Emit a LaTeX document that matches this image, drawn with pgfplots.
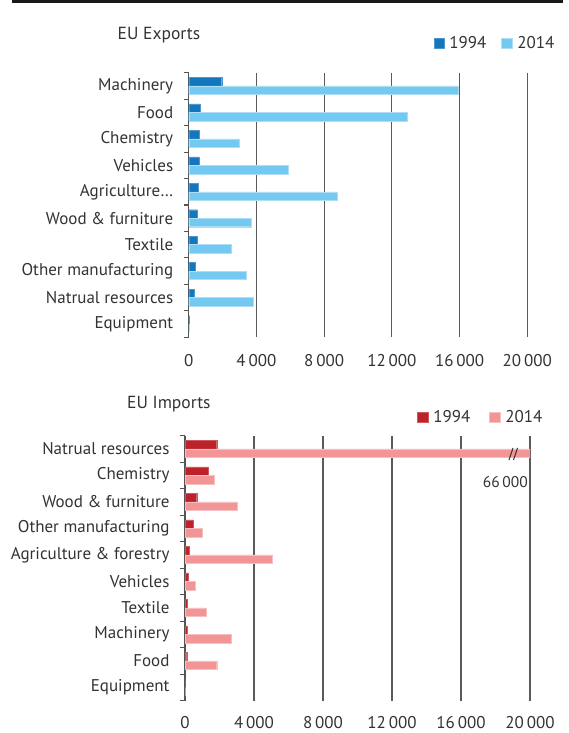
\documentclass[border=0pt]{standalone}
\usepackage{fontspec}
\setmainfont{PT Sans}
\usepackage{pgfplots}
\pgfplotsset{compat=1.18}
\definecolor{expA}{HTML}{1476BC}
\definecolor{expB}{HTML}{74C9F1}
\definecolor{impA}{HTML}{BD2129}
\definecolor{impB}{HTML}{F19596}
\definecolor{textc}{HTML}{333333}
\definecolor{axisc}{HTML}{555555}
\definecolor{gridc}{HTML}{5A5A5A}
\pgfplotsset{
  mybars/.style={
    scale only axis, xbar, bar width=8.5pt,
    xmin=0, xmax=20000, ymin=-0.5, ymax=9.5, y dir=reverse,
    ytick={0,...,9}, minor ytick={-0.5,0.5,...,9.5},
    major tick length=0pt, minor tick length=5pt, tick align=outside,
    xtick={0,4000,...,20000}, xmajorgrids, scaled x ticks=false,
    major grid style={draw=gridc, line width=1.1pt},
    axis y line*=left, axis x line*=bottom,
    x axis line style={draw=none},
    y axis line style={draw=axisc, line width=1.3pt, -},
    minor tick style={draw=axisc, line width=1.1pt},
    /pgf/number format/.cd, 1000 sep={\,}, assume math mode=true, /pgfplots/.cd,
    xticklabel style={font=\fontsize{17}{20}\selectfont, text=textc, yshift=-14pt},
    yticklabel style={font=\fontsize{17}{20}\selectfont, text=textc, xshift=-12pt},
    legend image code/.code={\fill[##1] (0pt,-5pt) rectangle (10.5pt,5pt); \path (13.5pt,0pt);},
    legend cell align=left,
  }
}
\begin{document}
\begin{tikzpicture}
\useasboundingbox (0pt,0pt) rectangle (569pt,733pt);
\draw[line width=2.5pt, color=black!90] (12pt,731.5pt) -- (563.3pt,731.5pt);
\node[anchor=base west, inner sep=0pt, text=textc, font=\fontsize{17.5}{20}\selectfont] at (117.5pt,693pt) {EU Exports};
\node[anchor=base west, inner sep=0pt, text=textc, font=\fontsize{17.5}{20}\selectfont] at (127pt,324.7pt) {EU Imports};

\begin{axis}[mybars, at={(188.7pt,395.7pt)}, anchor=south west, width=338.6pt, height=264.6pt,
  yticklabels={Machinery, Food, Chemistry, Vehicles, Agriculture…, Wood \& furniture, Textile, Other manufacturing, Natrual resources, Equipment},
  legend style={draw=none, fill=none, inner sep=0pt, at={(0.7224,1.1098)}, anchor=west, legend columns=2,
    font=\fontsize{17}{20}\selectfont, text=textc, /tikz/every even column/.append style={column sep=13pt}},
]
\addplot[fill=expA, draw=expA!75!white, line width=0.4pt, bar shift=4.25pt] coordinates {
(1950,0) (680,1) (600,2) (600,3) (570,4) (510,5) (510,6) (390,7) (330,8) (0,9)};
\addplot[fill=expB, draw=expB!60!white, line width=0.4pt, bar shift=-4.25pt] coordinates {
(15900,0) (12900,1) (3000,2) (5900,3) (8750,4) (3700,5) (2500,6) (3400,7) (3800,8) (0,9)};
\legend{1994, 2014}
\end{axis}

\begin{axis}[mybars, at={(185pt,32.3pt)}, anchor=south west, width=345pt, height=265pt,
  xticklabel style={yshift=1.5pt},
  yticklabels={Natrual resources, Chemistry, Wood \& furniture, Other manufacturing, Agriculture \& forestry, Vehicles, Textile, Machinery, Food, Equipment},
  legend style={draw=none, fill=none, inner sep=0pt, at={(0.6733,1.0687)}, anchor=west, legend columns=2,
    font=\fontsize{17}{20}\selectfont, text=textc, /tikz/every even column/.append style={column sep=17pt}},
]
\addplot[fill=impA, draw=impA!75!white, line width=0.4pt, bar shift=4.25pt] coordinates {
(1840,0) (1370,1) (680,2) (460,3) (270,4) (190,5) (150,6) (130,7) (100,8) (0,9)};
\addplot[fill=impB, draw=impB!60!white, line width=0.4pt, bar shift=-4.25pt] coordinates {
(66000,0) (1680,1) (3000,2) (990,3) (5060,4) (620,5) (1220,6) (2680,7) (1840,8) (0,9)};
\legend{1994, 2014}
\end{axis}

\draw[textc, line width=1pt] (509pt,273pt) -- (513pt,285pt);
\draw[textc, line width=1pt] (513.5pt,273pt) -- (517.5pt,285pt);
\node[anchor=base east, inner sep=0pt, text=textc, font=\fontsize{15.5}{18}\selectfont] at (528pt,245.7pt) {66\,000};
\end{tikzpicture}
\end{document}
